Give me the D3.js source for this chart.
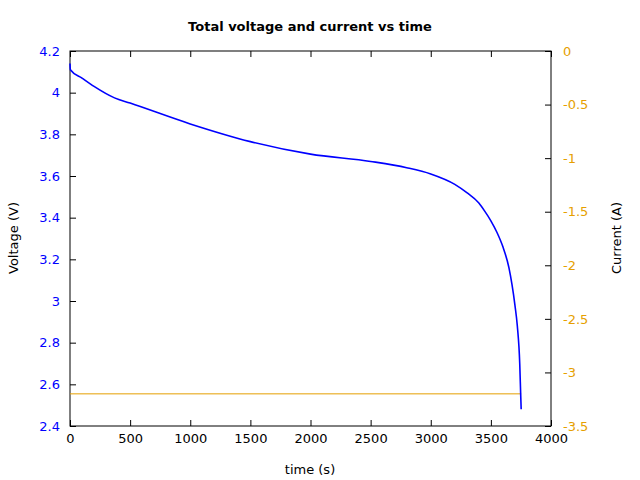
<!DOCTYPE html>
<html><head><meta charset="utf-8">
<script src="https://cdn.jsdelivr.net/npm/d3@7"></script>
<style>body{margin:0;background:#fff}text{font-family:"DejaVu Sans",sans-serif}</style>
</head><body><svg id="c" width="640" height="480"></svg>
<script>
const timeS=[0,3,100,200,370,500,1000,1500,2000,2500,2800,3000,3200,3300,3400,3450,3500,3550,3600,3650,3700,3720,3740,3748,3752];
const voltageV=[4.14,4.11,4.07,4.03,3.975,3.95,3.85,3.765,3.705,3.67,3.64,3.61,3.56,3.52,3.47,3.43,3.385,3.33,3.26,3.16,2.98,2.88,2.70,2.55,2.48];
const currentT=[0,3752];
const currentA=[-3.2,-3.2];
const xTicks=[0,500,1000,1500,2000,2500,3000,3500,4000];
const yTicks=[2.4,2.6,2.8,3,3.2,3.4,3.6,3.8,4,4.2];
const y2Ticks=[0,-0.5,-1,-1.5,-2,-2.5,-3,-3.5];
const svg=d3.select("#c");
const L=70,R=551,T=51,B=426;
const x=d3.scaleLinear().domain([0,4000]).range([L,R]);
const y=d3.scaleLinear().domain([2.4,4.2]).range([B,T]);
const y2=d3.scaleLinear().domain([-3.5,0]).range([B,T]);
const blue="#0000ff",orange="#e69f00";
function ax(g,col){g.select(".domain").remove();g.selectAll("text").attr("fill",col).style("font-size","13px");g.selectAll("line").attr("stroke","#000");}
svg.append("g").attr("transform",`translate(0,${B})`).call(d3.axisBottom(x).tickValues(xTicks).tickFormat(d3.format("d")).tickSize(-6).tickPadding(8)).call(g=>ax(g,"#000"));
svg.append("g").attr("transform",`translate(0,${T})`).call(d3.axisTop(x).tickValues(xTicks).tickFormat("").tickSize(-6)).call(g=>ax(g,"#000"));
svg.append("g").attr("transform",`translate(${L},0)`).call(d3.axisLeft(y).tickValues(yTicks).tickFormat(d=>String(+d.toFixed(1))).tickSize(-6).tickPadding(10)).call(g=>ax(g,blue));
svg.append("g").attr("transform",`translate(${R},0)`).call(d3.axisRight(y2).tickValues(y2Ticks).tickFormat(d=>String(d)).tickSize(-6).tickPadding(12)).call(g=>ax(g,orange));
svg.append("rect").attr("x",L).attr("y",T).attr("width",R-L).attr("height",B-T).attr("fill","none").attr("stroke","#000");
svg.append("path").datum(currentT.map((t,i)=>[t,currentA[i]])).attr("d",d3.line().x(d=>x(d[0])).y(d=>y2(d[1]))).attr("fill","none").attr("stroke",orange).attr("stroke-width",1);
svg.append("path").datum(timeS.map((t,i)=>[t,voltageV[i]])).attr("d",d3.line().curve(d3.curveMonotoneX).x(d=>x(d[0])).y(d=>y(d[1]))).attr("fill","none").attr("stroke",blue).attr("stroke-width",1.6);
svg.append("text").attr("x",310).attr("y",31).attr("text-anchor","middle").style("font-size","13px").style("font-weight","bold").text("Total voltage and current vs time");
svg.append("text").attr("x",310).attr("y",474).attr("text-anchor","middle").style("font-size","13px").text("time (s)");
svg.append("text").attr("transform","translate(18,238) rotate(-90)").attr("text-anchor","middle").style("font-size","13px").text("Voltage (V)");
svg.append("text").attr("transform","translate(621,238) rotate(-90)").attr("text-anchor","middle").style("font-size","13px").text("Current (A)");
</script></body></html>
